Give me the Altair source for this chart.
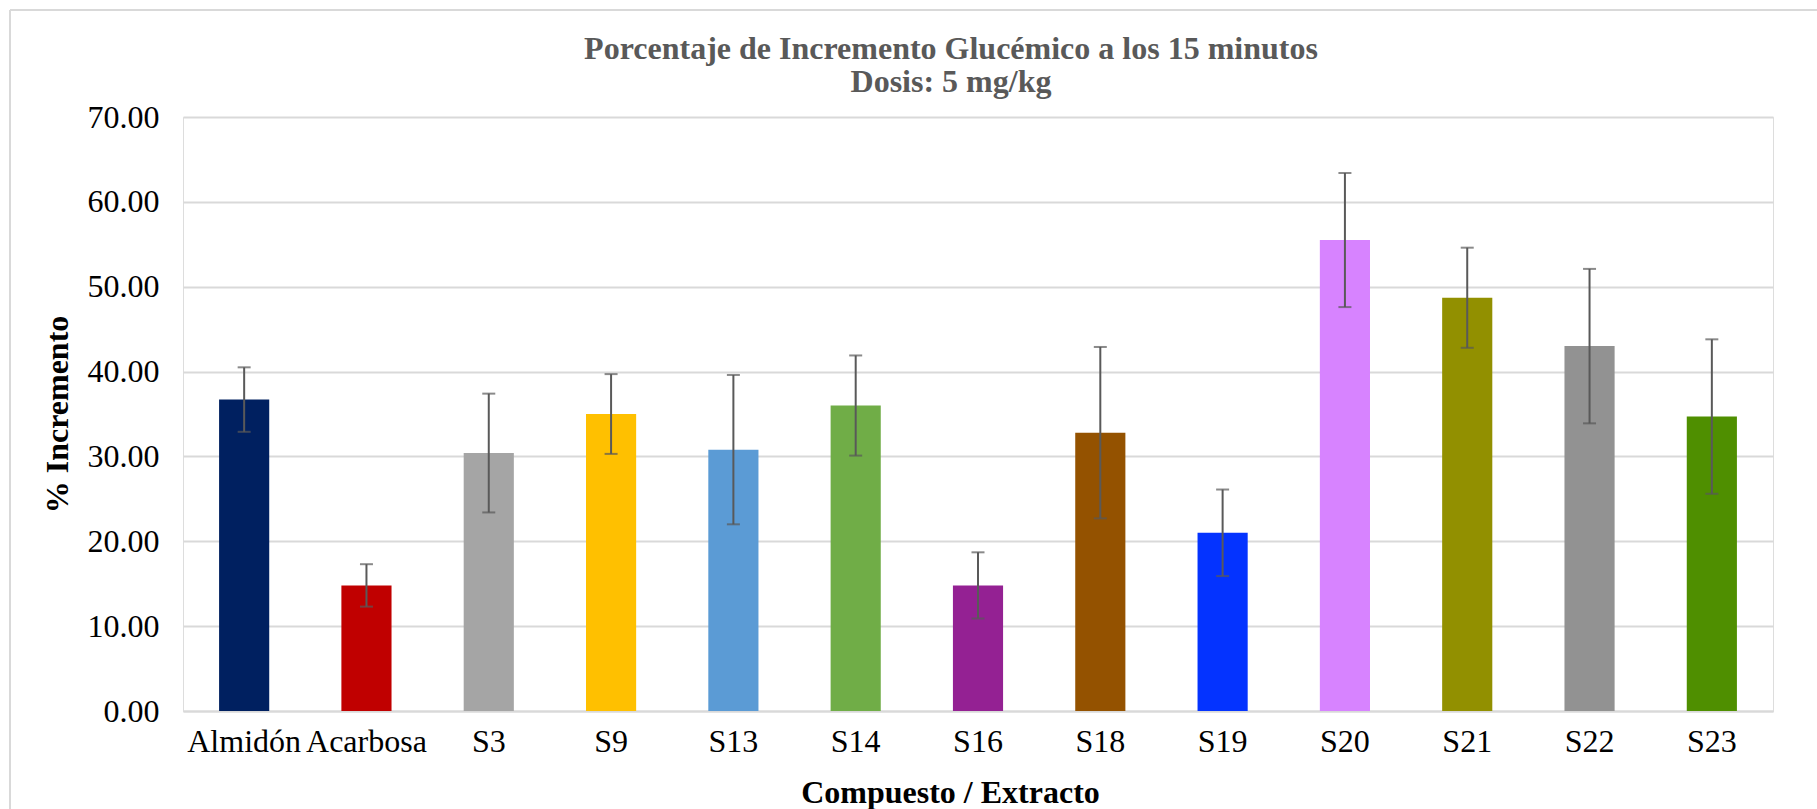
import altair as alt
import pandas as pd

categories = ["Almidón", "Acarbosa", "S3", "S9", "S13", "S14", "S16", "S18",
              "S19", "S20", "S21", "S22", "S23"]
values = [36.7, 14.8, 30.4, 35.0, 30.8, 36.0, 14.8, 32.8, 21.0, 55.5, 48.7, 43.0, 34.7]
errors = [3.8, 2.5, 7.0, 4.7, 8.8, 5.9, 3.9, 10.1, 5.1, 7.9, 5.9, 9.1, 9.1]
colors = ["#002060", "#C00000", "#A5A5A5", "#FFC000", "#5B9BD5", "#70AD47",
          "#942193", "#945200", "#0433FF", "#D783FF", "#929000", "#929292", "#4F8F00"]
y_ticks = [0, 10, 20, 30, 40, 50, 60, 70]

df = pd.DataFrame({"cat": categories, "value": values, "err": errors})

FONT = "Liberation Serif"
GRID = "#d9d9d9"
ERRC = "#595959"

W, H = 1590, 594
LEFT, TOP = 183, 117

x_enc = alt.X(
    "cat:N",
    sort=categories,
    scale=alt.Scale(paddingInner=0.59, paddingOuter=0.295),
    axis=alt.Axis(
        title="Compuesto / Extracto",
        labelAngle=0,
        labelFont=FONT,
        labelFontSize=32,
        labelColor="#000000",
        labelPadding=15,
        ticks=False,
        tickSize=0,
        domainColor=GRID,
        domainWidth=2,
        titleFont=FONT,
        titleFontSize=32,
        titleFontWeight="bold",
        titleColor="#000000",
        titlePadding=20,
        titleX=767,
    ),
)

y_enc = alt.Y(
    "value:Q",
    scale=alt.Scale(domain=[0, 70], nice=False, zero=True),
    axis=alt.Axis(
        title="% Incremento",
        values=y_ticks,
        format=".2f",
        labelFont=FONT,
        labelFontSize=32,
        labelColor="#000000",
        labelPadding=24,
        ticks=False,
        tickSize=0,
        domain=False,
        gridColor=GRID,
        gridWidth=2,
        titleFont=FONT,
        titleFontSize=32,
        titleFontWeight="bold",
        titleColor="#000000",
        titlePadding=13,
    ),
)

base = alt.Chart(df).transform_calculate(
    lo="datum.value - datum.err", hi="datum.value + datum.err"
)

bars = base.mark_bar().encode(
    x=x_enc,
    y=y_enc,
    color=alt.Color("cat:N", scale=alt.Scale(domain=categories, range=colors), legend=None),
)

whisk = base.mark_rule(color=ERRC, strokeWidth=2).encode(
    x=alt.X("cat:N", sort=categories),
    y=alt.Y("lo:Q"),
    y2="hi:Q",
)

cap_hi = base.mark_tick(color=ERRC, thickness=2, size=13, orient="horizontal").encode(
    x=alt.X("cat:N", sort=categories),
    y=alt.Y("hi:Q"),
)
cap_lo = base.mark_tick(color=ERRC, thickness=2, size=13, orient="horizontal").encode(
    x=alt.X("cat:N", sort=categories),
    y=alt.Y("lo:Q"),
)

border_top = alt.Chart(df).mark_rule(color=GRID, strokeWidth=2).encode(
    x=alt.value(10 - LEFT), x2=alt.value(1817 - LEFT), y=alt.value(10 - TOP)
)
border_left = alt.Chart(df).mark_rule(color=GRID, strokeWidth=2).encode(
    x=alt.value(10 - LEFT), y=alt.value(10 - TOP), y2=alt.value(809 - TOP)
)

chart = alt.layer(bars, whisk, cap_hi, cap_lo, border_top, border_left).properties(
    width=W,
    height=H,
    title=alt.TitleParams(
        text=["Porcentaje de Incremento Glucémico a los 15 minutos", "Dosis: 5 mg/kg"],
        font=FONT,
        fontSize=32,
        fontWeight="bold",
        color="#595959",
        anchor="middle",
        dx=-27,
        lineHeight=33,
        offset=-90,
    ),
    autosize=alt.AutoSizeParams(type="none"),
    padding={"left": LEFT, "top": TOP, "right": 1817 - LEFT - W, "bottom": 809 - TOP - H},
).configure_view(stroke=None).configure(background="#ffffff")

chart.save("out.html", embed_options={"renderer": "svg", "actions": False})
